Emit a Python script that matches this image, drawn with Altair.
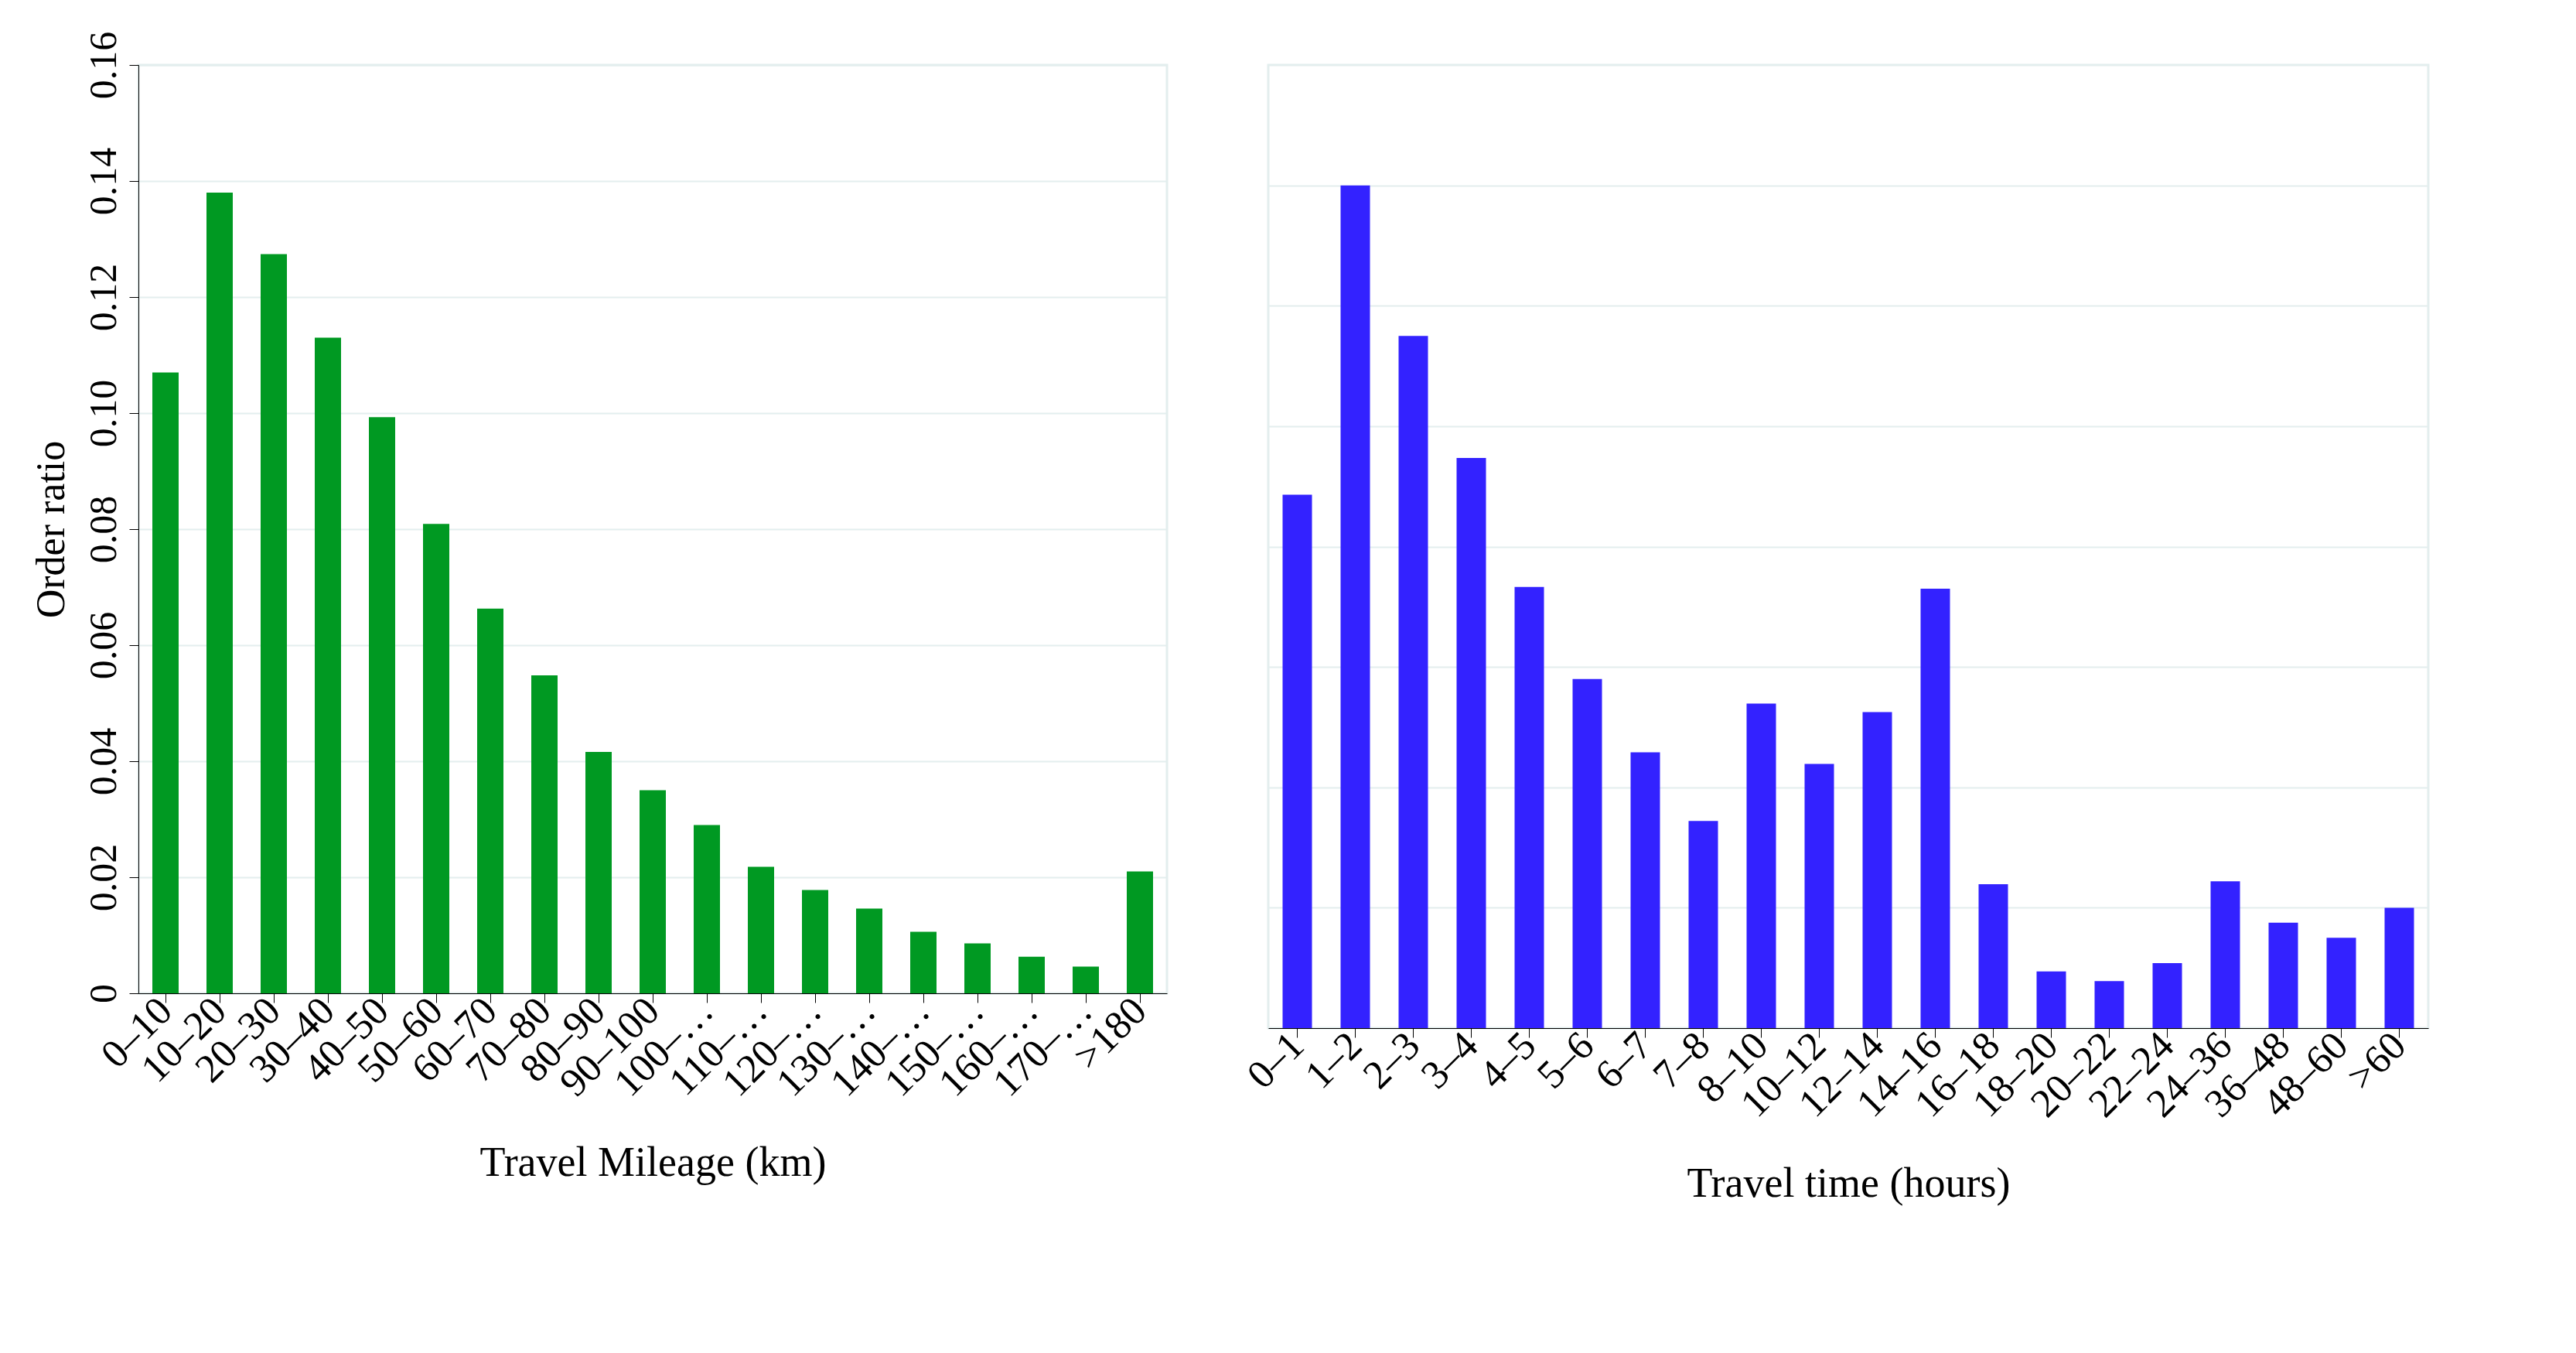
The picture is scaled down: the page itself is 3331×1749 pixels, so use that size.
import pandas as pd
import altair as alt

mileage = ['0–10', '10–20', '20–30', '30–40', '40–50', '50–60', '60–70', '70–80', '80–90',
           '90–100', '100–110', '110–120', '120–130', '130–140', '140–150', '150–160',
           '160–170', '170–180', '>180']
mileage_ratio = [0.107, 0.138, 0.1274, 0.113, 0.0993, 0.0809, 0.0663, 0.0548, 0.0416,
                 0.035, 0.029, 0.0218, 0.0178, 0.0146, 0.0106, 0.0086, 0.0063, 0.0046, 0.021]

hours = ['0–1', '1–2', '2–3', '3–4', '4–5', '5–6', '6–7', '7–8', '8–10', '10–12', '12–14',
         '14–16', '16–18', '18–20', '20–22', '22–24', '24–36', '36–48', '48–60', '>60']
hours_ratio = [0.0886, 0.14, 0.115, 0.0947, 0.0733, 0.058, 0.0458, 0.0344, 0.0539, 0.0439,
               0.0525, 0.073, 0.0239, 0.0094, 0.0078, 0.0108, 0.0244, 0.0175, 0.015, 0.02]

df1 = pd.DataFrame({'cat': mileage, 'ratio': mileage_ratio})
df2 = pd.DataFrame({'cat': hours, 'ratio': hours_ratio})

font = 'Liberation Serif'
xaxis = dict(labelAngle=-45, labelFontSize=52, titleFontSize=54, labelFont=font, titleFont=font,
             titlePadding=50, domainColor='black', tickColor='black', labelColor='black',
             titleColor='black', titleFontWeight='normal', tickSize=12, labelAlign='right',
             labelBaseline='middle', labelOverlap=False)

left = alt.Chart(df1).mark_bar(color='#009922', width=34).encode(
    x=alt.X('cat:N', sort=mileage, title='Travel Mileage (km)', axis=alt.Axis(**xaxis)),
    y=alt.Y('ratio:Q', title='Order ratio', scale=alt.Scale(domain=[0, 0.16]),
            axis=alt.Axis(values=[0, 0.02, 0.04, 0.06, 0.08, 0.10, 0.12, 0.14, 0.16],
                          labelExpr="datum.value == 0 ? '0' : format(datum.value, '.2f')",
                          labelAngle=-90, labelAlign='center', labelBaseline='bottom',
                          labelFontSize=50, titleFontSize=52, labelFont=font, titleFont=font,
                          titleFontWeight='normal', gridColor='#e3eeee', gridWidth=2,
                          domainColor='black', tickColor='black', labelColor='black',
                          titleColor='black', tickSize=12, labelPadding=8, titlePadding=16))
).properties(width=1330, height=1200)

right = alt.Chart(df2).mark_bar(color='#3322ff', width=38).encode(
    x=alt.X('cat:N', sort=hours, title='Travel time (hours)', axis=alt.Axis(**xaxis)),
    y=alt.Y('ratio:Q', title=None, scale=alt.Scale(domain=[0, 0.16]),
            axis=alt.Axis(values=[0, 0.02, 0.04, 0.06, 0.08, 0.10, 0.12, 0.14],
                          labels=False, ticks=False, domain=False,
                          gridColor='#e3eeee', gridWidth=2))
).properties(width=1500, height=1245)

chart = alt.hconcat(left, right, spacing=90).configure_view(
    stroke='#e3eeee', strokeWidth=3
).configure_concat(spacing=90).properties(background='white', padding=30)

chart.save("out.html", embed_options={"renderer": "svg", "actions": False})
